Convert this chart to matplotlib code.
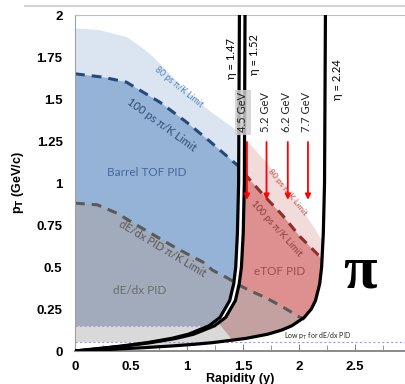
import matplotlib.pyplot as plt
from matplotlib.patches import Polygon
from matplotlib.lines import Line2D

# iso-eta lines for pions (pT, rapidity)
eta147_pt = [0, 0.01, 0.02, 0.03, 0.05, 0.075, 0.1, 0.15, 0.2, 0.3, 0.4, 0.5, 0.7, 1.0, 2.0]
eta147_y = [0, 0.146, 0.287, 0.420, 0.647, 0.862, 1.014, 1.197, 1.295, 1.381, 1.417, 1.435, 1.450, 1.461, 1.468]
eta152_pt = [0, 0.01, 0.02, 0.03, 0.05, 0.075, 0.1, 0.15, 0.2, 0.3, 0.4, 0.5, 0.7, 1.0, 2.0]
eta152_y = [0, 0.155, 0.304, 0.443, 0.679, 0.902, 1.059, 1.246, 1.345, 1.432, 1.466, 1.486, 1.502, 1.512, 1.518]
eta224_pt = [0, 0.005, 0.01, 0.02, 0.03, 0.04, 0.05, 0.075, 0.1, 0.125, 0.15, 0.2, 0.25, 0.3, 0.4, 0.5, 0.7, 1.0, 2.0]
eta224_y = [0, 0.166, 0.326, 0.618, 0.864, 1.065, 1.231, 1.526, 1.721, 1.847, 1.935, 2.047, 2.110, 2.147, 2.185, 2.202, 2.217, 2.228, 2.236]

# PID limits (rapidity, pT)
tof80_y = [0, 0.22, 0.46, 0.61, 0.70, 0.83, 0.96, 1.08, 1.20, 1.45, 1.54, 1.71, 1.86, 2.01, 2.13, 2.23, 2.30]
tof80_pt = [1.92, 1.91, 1.87, 1.80, 1.75, 1.66, 1.57, 1.50, 1.43, 1.31, 1.25, 1.12, 1.00, 0.86, 0.74, 0.63, 0.57]
tof100_y = [0, 0.25, 0.46, 0.61, 0.76, 1.00, 1.20, 1.46, 1.52, 1.68, 1.85, 2.01, 2.16, 2.23]
tof100_pt = [1.65, 1.63, 1.60, 1.54, 1.48, 1.36, 1.25, 1.10, 1.05, 0.93, 0.81, 0.68, 0.58, 0.53]
dedx_y = [0, 0.20, 0.375, 0.55, 0.73, 0.91, 1.14, 1.23, 1.36, 1.47, 1.56, 1.71, 1.86, 2.01, 2.05]
dedx_pt = [0.88, 0.87, 0.82, 0.75, 0.68, 0.61, 0.53, 0.48, 0.435, 0.39, 0.36, 0.315, 0.26, 0.20, 0.19]
# eTOF low-pT edge
lowcut_y = [1.23, 1.295, 1.384, 1.45]
lowcut_pt = [0.20, 0.155, 0.083, 0.0]

dedx_low = 0.149
dedx_floor = 0.055

energies = ["4.5 GeV", "5.2 GeV", "6.2 GeV", "7.7 GeV"]
beam_y = [1.535, 1.71, 1.90, 2.08]

FONT = ['Lato', 'DejaVu Sans']

fig = plt.figure(figsize=(4.05, 3.84), dpi=100)
ax = fig.add_axes([75 / 405, 33 / 384, 330 / 405, 336 / 384])
ax.set_xlim(0, 330 / 112)
ax.set_ylim(0, 2)

barrel = Polygon(list(zip(eta147_y, eta147_pt)) + [(0, 2.0)], closed=True,
                 transform=ax.transData)
etof = Polygon(list(zip(eta224_y, eta224_pt)) + list(zip(eta152_y, eta152_pt))[::-1],
               closed=True, transform=ax.transData)


def area(xs, ys, bottom, right=None, **kw):
    pts = list(zip(xs, ys))
    if right is not None:
        pts.append((right, ys[-1]))
    pts += [(right if right is not None else xs[-1], bottom), (0, bottom)]
    return Polygon(pts, closed=True, lw=0, **kw)


def add(patch, clip):
    ax.add_patch(patch)
    patch.set_clip_path(clip)


# barrel
add(area(tof80_y, tof80_pt, dedx_low, fc='#dbe5f1'), barrel)
add(area(tof100_y, tof100_pt, dedx_low, fc='#95b3d7'), barrel)
add(area(dedx_y, dedx_pt, dedx_low, right=3, fc='#a1abbb'), barrel)
add(Polygon([(0, dedx_floor), (3, dedx_floor), (3, dedx_low), (0, dedx_low)], lw=0, fc='#d9d9d9'), barrel)

# endcap TOF
add(area(tof80_y, tof80_pt, 0, fc='#f2dcdb'), etof)
add(area(tof100_y, tof100_pt, 0, fc='#de9090'), etof)
add(area(dedx_y, dedx_pt, 0, right=3, fc='#c4a1a1'), etof)
add(Polygon(list(zip(lowcut_y, lowcut_pt)) + [(0, 0), (0, lowcut_pt[0])], lw=0, fc='#d9d9d9'), etof)

# limit lines
ln, = ax.plot(tof100_y, tof100_pt, color='#254a7a', lw=2.2, ls=(0, (3.2, 2.3)), zorder=2)
ln.set_clip_path(barrel)
ln, = ax.plot(tof100_y, tof100_pt, color='#8c2f2f', lw=2.2, ls=(0, (3.2, 2.3)), zorder=2)
ln.set_clip_path(etof)
ax.plot(dedx_y, dedx_pt, color='#5a5a5a', lw=2.2, ls=(0, (3.2, 2.3)), zorder=2)

ax.plot([0, 1.19], [dedx_low, dedx_low], color='#9c9cf0', lw=0.8, ls=(0, (2, 2)), zorder=2)
ax.plot([0, 3], [dedx_floor, dedx_floor], color='#9c9cf0', lw=0.8, ls=(0, (2, 2)), zorder=2)

# eta lines
for ys, ps in [(eta147_y, eta147_pt), (eta152_y, eta152_pt), (eta224_y, eta224_pt)]:
    ax.plot(ys, ps, color='black', lw=2.3, zorder=3, solid_capstyle='butt')

# beam rapidities
for lab, yb in zip(energies, beam_y):
    ax.annotate('', xy=(yb, 0.90), xytext=(yb, 1.244),
                arrowprops=dict(arrowstyle='-|>', color='red', lw=1.3, mutation_scale=8,
                                shrinkA=0, shrinkB=0), zorder=4)
for lab, yb in zip(energies, [1.50, 1.705, 1.89, 2.07]):
    kw = {}
    if lab == energies[0]:
        kw['bbox'] = dict(fc='#cfcfcf', ec='none', alpha=0.85, pad=1.5)
    ax.text(yb, 1.42, lab, rotation=90, ha='center', va='center', fontsize=8,
            family=FONT, color='#222222', zorder=5, **kw)

ax.text(1.40, 1.744, 'η = 1.47', rotation=90, ha='center', va='center', fontsize=8, family=FONT, zorder=5)
ax.text(1.607, 1.762, 'η = 1.52', rotation=90, ha='center', va='center', fontsize=8, family=FONT, zorder=5)
ax.text(2.34, 1.613, 'η = 2.24', rotation=90, ha='center', va='center', fontsize=8, family=FONT, zorder=5)

# region labels
ax.text(0.93, 1.57, '80 ps π/K Limit', rotation=-39, ha='center', va='center', fontsize=6.2,
        family=FONT, color='#4f81bd', zorder=5)
ax.text(0.777, 1.345, '100 ps π/K Limit', rotation=-36, ha='center', va='center', fontsize=8,
        family=FONT, color='#2c4d75', zorder=5)
ax.text(0.643, 1.06, 'Barrel TOF PID', ha='center', va='center', fontsize=8.5,
        family=FONT, color='#46679a', zorder=5)
ax.text(0.78, 0.61, 'dE/dx PID π/K Limit', rotation=-31, ha='center', va='center', fontsize=8,
        family=FONT, color='#595959', zorder=5)
ax.text(0.58, 0.363, 'dE/dx PID', ha='center', va='center', fontsize=8.5,
        family=FONT, color='#6b6b6b', zorder=5)
ax.text(1.83, 0.476, 'eTOF PID', ha='center', va='center', fontsize=8.5,
        family=FONT, color='#a34a4a', zorder=5)
ax.text(1.80, 0.726, '100 ps π/K Limit', rotation=-48, ha='center', va='center', fontsize=7,
        family=FONT, color='#8b3a3a', zorder=5)
ax.text(1.90, 0.946, '80 ps π/K Limit', rotation=-51, ha='center', va='center', fontsize=6,
        family=FONT, color='#c0504d', zorder=5)
ax.text(2.17, 0.085, 'Low p$_\\mathregular{T}$ for dE/dx PID', ha='center', va='center', fontsize=5,
        family=FONT, color='#222222', zorder=5)
ax.text(2.545, 0.47, 'π', ha='center', va='center', fontsize=44, fontweight='bold',
        family=['Liberation Serif', 'DejaVu Serif'], zorder=5)

# axes styling
ax.spines['right'].set_visible(False)
ax.spines['left'].set_color('#a0a0a0')
ax.spines['top'].set_color('#c0c0c0')
ax.spines['bottom'].set_color('#8a8a8a')
ax.spines['bottom'].set_linewidth(1.4)
ax.set_axisbelow(True)

ax.set_xticks([0, 0.5, 1, 1.5, 2, 2.5])
ax.set_xticklabels(['0', '0.5', '1', '1.5', '2', '2.5'])
ax.set_xticks([0.25, 0.75, 1.25, 1.75, 2.25, 2.75], minor=True)
ax.set_yticks([0, 0.25, 0.5, 0.75, 1, 1.25, 1.5, 1.75, 2])
ax.set_yticklabels(['0', '0.25', '0.5', '0.75', '1', '1.25', '1.5', '1.75', '2'])
ax.tick_params(axis='both', which='both', direction='in', colors='#8a8a8a',
               labelcolor='black')
ax.tick_params(axis='x', which='major', length=5, pad=7)
ax.tick_params(axis='x', which='minor', length=4)
ax.tick_params(axis='y', length=3, pad=9)
for t in ax.get_xticklabels() + ax.get_yticklabels():
    t.set_fontweight('bold')
    t.set_fontfamily('Liberation Sans')
    t.set_fontsize(9.5)

fig.text(18 / 405, 1 - 183 / 384, 'p$_\\mathbf{T}$ (GeV/c)', rotation=90, ha='center', va='center',
         fontsize=9, fontweight='bold', family='Liberation Sans')
fig.text(240 / 405, 1 - 373 / 384, 'Rapidity (y)', ha='center', va='top',
         fontsize=9, fontweight='bold', family='Liberation Sans')

fig.add_artist(Line2D([25 / 405, 1], [1 - 6 / 384, 1 - 6 / 384], color='#d4d4d4', lw=1.5))

fig.savefig('out.png', dpi=100)
